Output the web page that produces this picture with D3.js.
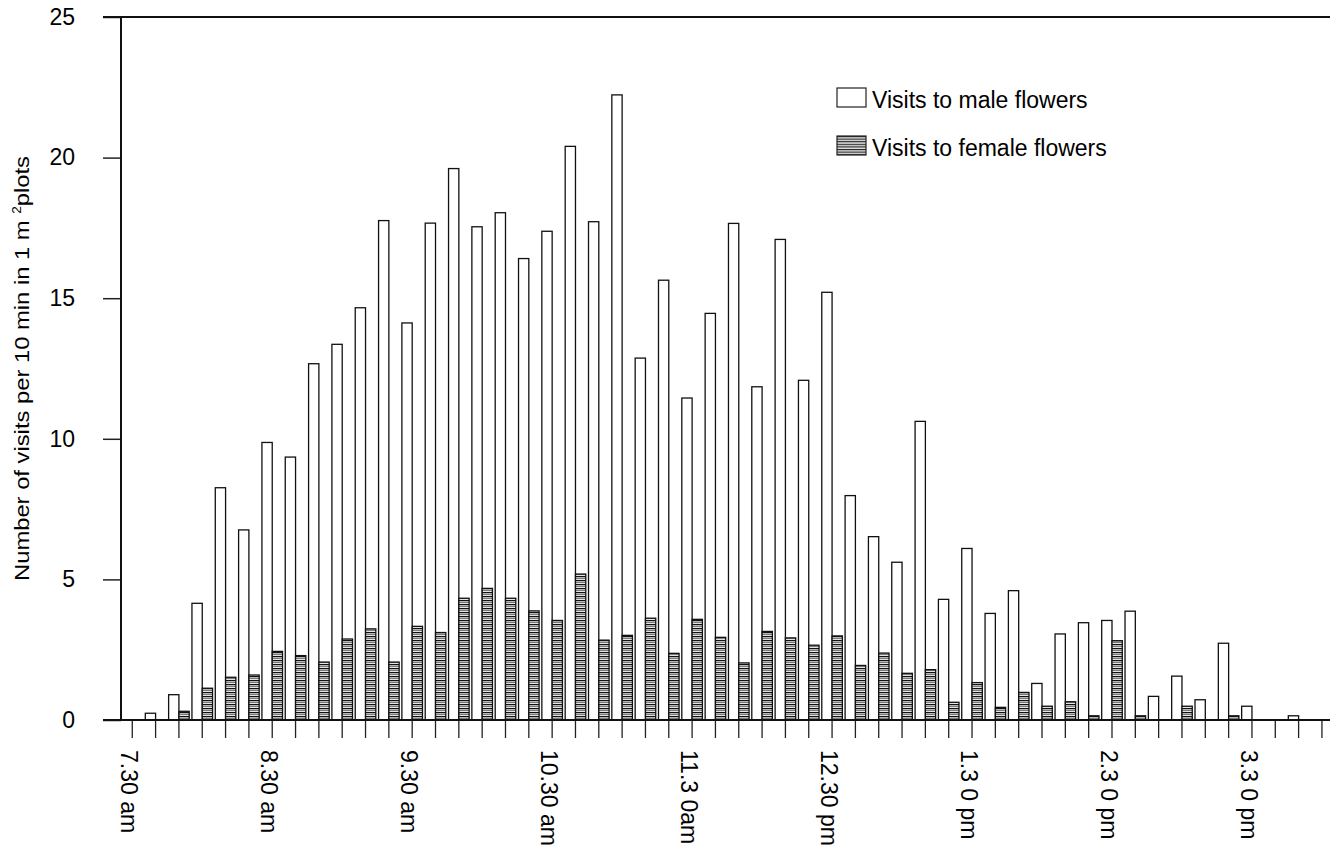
<!DOCTYPE html>
<html>
<head>
<meta charset="utf-8">
<script src="https://cdn.jsdelivr.net/npm/d3@7/dist/d3.min.js"></script>
<style>
  html, body { margin: 0; padding: 0; background: #fff; }
  svg { display: block; }
  text { font-family: "Liberation Sans", Arial, Helvetica, sans-serif; fill: #000; }
</style>
</head>
<body>
<svg id="chart" width="1330" height="847"></svg>
<script>
// ---- data ----
const timeSlots = ["7:30","7:40","7:50","8:00","8:10","8:20","8:30","8:40","8:50","9:00","9:10","9:20",
  "9:30","9:40","9:50","10:00","10:10","10:20","10:30","10:40","10:50","11:00","11:10","11:20",
  "11:30","11:40","11:50","12:00","12:10","12:20","12:30","12:40","12:50","13:00","13:10","13:20",
  "13:30","13:40","13:50","14:00","14:10","14:20","14:30","14:40","14:50","15:00","15:10","15:20",
  "15:30","15:40","15:50","16:00"];
const maleVisits = [0, 0.24, 0.9, 4.15, 8.26, 6.76, 9.87, 9.35, 12.67, 13.36, 14.66, 17.76,
  14.12, 17.67, 19.61, 17.54, 18.04, 16.41, 17.38, 20.40, 17.72, 22.23, 12.87, 15.64,
  11.45, 14.46, 17.66, 11.85, 17.09, 12.08, 15.21, 7.98, 6.52, 5.61, 10.62, 4.29,
  6.1, 3.79, 4.6, 1.30, 3.06, 3.46, 3.54, 3.87, 0.84, 1.56, 0.72, 2.73,
  0.49, 0, 0.15, 0];
const femaleVisits = [0, 0, 0.31, 1.13, 1.52, 1.6, 2.44, 2.29, 2.06, 2.88, 3.24, 2.06,
  3.33, 3.11, 4.33, 4.68, 4.33, 3.88, 3.54, 5.19, 2.84, 3.01, 3.62, 2.37,
  3.58, 2.94, 2.03, 3.15, 2.92, 2.66, 2.99, 1.94, 2.38, 1.66, 1.79, 0.63,
  1.33, 0.45, 0.98, 0.49, 0.65, 0.15, 2.82, 0.15, 0, 0.49, 0, 0.15,
  0, 0, 0, 0];
const labelSlots = ["7:30","8:30","9:30","10:30","11:30","12:30","13:30","14:30","15:30"];
const labelTexts = ["7.30 am","8.30 am","9.30 am","10.30 am","11.3 0am","12.30 pm","1.3 0 pm","2.3 0 pm","3.3 0 pm"];
const yTicks = [0, 5, 10, 15, 20, 25];
const seriesKeys = ["male", "female"];
const legendLabels = ["Visits to male flowers", "Visits to female flowers"];
const yTitle = "Number of visits per 10 min in 1 m ";
const yTitleSup = "2";
const yTitleEnd = "plots";

// ---- layout ----
const svg = d3.select("#chart");
const x0 = 120.6, x1 = 1333.6, yTop = 17, yBot = 720;

const x = d3.scaleBand().domain(timeSlots).range([x0, x1]).padding(0);
const xs = d3.scaleBand().domain(seriesKeys).range([0, x.bandwidth()]).paddingInner(0).paddingOuter(0.133);
const y = d3.scaleLinear().domain([0, 25]).range([yBot, yTop]);

// pattern for female bars
const defs = svg.append("defs");
const pat = defs.append("pattern").attr("id", "hstripe")
  .attr("patternUnits", "userSpaceOnUse").attr("width", 8).attr("height", 4);
pat.append("rect").attr("width", 8).attr("height", 4).attr("fill", "#fff");
pat.append("rect").attr("y", 0).attr("width", 8).attr("height", 1.3).attr("fill", "#111");
pat.append("rect").attr("y", 2).attr("width", 8).attr("height", 1.2).attr("fill", "#7a7a7a");

const legPat = defs.append("pattern").attr("id", "hstripeLeg")
  .attr("patternUnits", "userSpaceOnUse").attr("width", 8).attr("height", 2.6);
legPat.append("rect").attr("width", 8).attr("height", 2.6).attr("fill", "#ddd");
legPat.append("rect").attr("width", 8).attr("height", 1.1).attr("fill", "#222");

// rows
const rows = timeSlots.map((t, i) => ({ t, male: maleVisits[i], female: femaleVisits[i] }));

// bars
const groups = svg.append("g").selectAll("g").data(rows).join("g")
  .attr("transform", d => `translate(${x(d.t)},0)`);
groups.selectAll("rect").data(d => seriesKeys.map(k => ({ k, v: d[k] })).filter(e => e.v > 0))
  .join("rect")
  .attr("x", e => xs(e.k))
  .attr("width", xs.bandwidth())
  .attr("y", e => y(e.v))
  .attr("height", e => y(0) - y(e.v))
  .attr("fill", e => e.k === "male" ? "#fff" : "url(#hstripe)")
  .attr("stroke", "#111")
  .attr("stroke-width", 1.3);

// y axis
const yAxis = svg.append("g").attr("transform", `translate(121,0)`)
  .call(d3.axisLeft(y).tickValues(yTicks).tickSize(18).tickPadding(28).tickFormat(d3.format("d")));
yAxis.select(".domain").remove();
yAxis.selectAll(".tick line").attr("stroke", "#222").attr("stroke-width", 1.5);
yAxis.selectAll(".tick text").style("font-size", "23px").style("font-family", "Liberation Sans, Arial, sans-serif");

// x axis ticks
const xAxis = svg.append("g").attr("transform", `translate(0,${yBot})`)
  .call(d3.axisBottom(x).tickSize(18).tickFormat(() => ""));
xAxis.select(".domain").remove();
xAxis.selectAll(".tick line").attr("stroke", "#222").attr("stroke-width", 1.3);

// x labels
svg.append("g").selectAll("text").data(labelSlots).join("text")
  .attr("transform", (d) => `translate(${x(d) + x.bandwidth() / 2},750) rotate(90)`)
  .attr("y", 3)
  .attr("dominant-baseline", "central")
  .attr("text-anchor", "start")
  .style("font-size", "23px")
  .text((d, i) => labelTexts[i]);

// axis lines
svg.append("line").attr("x1", 121).attr("x2", 121).attr("y1", yTop).attr("y2", yBot)
  .attr("stroke", "#111").attr("stroke-width", 2);
svg.append("line").attr("x1", 103).attr("x2", 1330).attr("y1", yBot).attr("y2", yBot)
  .attr("stroke", "#111").attr("stroke-width", 2);
svg.append("line").attr("x1", 103).attr("x2", 1330).attr("y1", yTop).attr("y2", yTop)
  .attr("stroke", "#111").attr("stroke-width", 2);

// y title
const yt = svg.append("text")
  .attr("transform", `translate(29,${(yTop + yBot) / 2}) rotate(-90)`)
  .attr("text-anchor", "middle")
  .attr("textLength", 425).attr("lengthAdjust", "spacingAndGlyphs")
  .style("font-family", "'Liberation Sans Narrow', 'Liberation Sans', Arial, sans-serif")
  .style("font-size", "21px");
yt.append("tspan").text(yTitle);
yt.append("tspan").attr("dy", -8).style("font-size", "12px").text(yTitleSup);
yt.append("tspan").attr("dy", 8).text(yTitleEnd);

// legend
const leg = svg.append("g");
const legItems = leg.selectAll("g").data(seriesKeys).join("g")
  .attr("transform", (d, i) => `translate(837,${88 + i * 48})`);
legItems.append("rect").attr("width", 29).attr("height", 19)
  .attr("fill", d => d === "male" ? "#fff" : "url(#hstripeLeg)")
  .attr("stroke", "#222").attr("stroke-width", 1.2);
legItems.append("text").attr("x", 35).attr("y", 20)
  .style("font-size", "23px")
  .text((d, i) => legendLabels[i]);
</script>
</body>
</html>
